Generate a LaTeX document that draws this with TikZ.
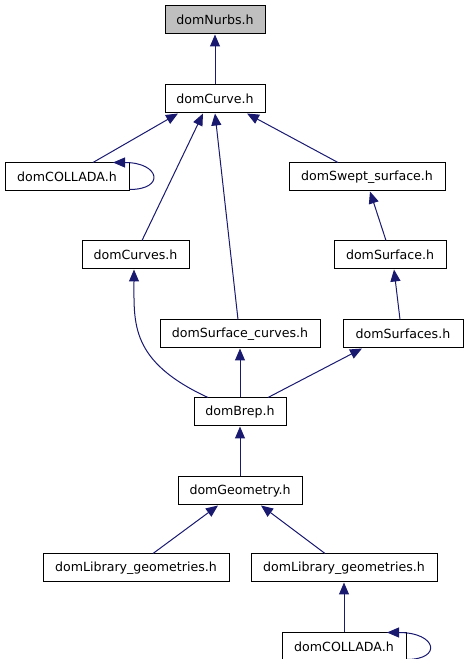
\documentclass[tikz,border=0pt]{standalone}
\usepackage{fontspec}
\setmainfont{DejaVu Sans}
\usepackage{xcolor}
\usepackage{tikz}
\usetikzlibrary{arrows.meta, positioning, calc}

\definecolor{edgeblue}{RGB}{25,25,112}
\definecolor{headgray}{RGB}{191,191,191}

\begin{document}
\begin{tikzpicture}[x=1pt, y=1pt,
  file/.style={draw=black, line width=1pt, rectangle, minimum height=28pt, inner sep=2pt, font=\fontsize{12.6}{15}\selectfont},
  edge/.style={draw=edgeblue, line width=1pt, -{Triangle[length=12pt, width=10pt]}}]
\useasboundingbox (0,0) rectangle (467,659);

\node[file, fill=headgray, minimum width=100pt] (nurbs) at (215,639) {domNurbs.h};
\node[file, minimum width=100pt, below=50pt of nurbs] (curve) {domCurve.h};

\node[file, minimum width=124pt, below=49pt of curve, xshift=-148pt] (colladaA) {domCOLLADA.h};
\node[file, minimum width=156pt, below=49pt of curve, xshift=152pt] (swept) {domSwept\_surface.h};
\node[file, minimum width=107pt, below=49pt of colladaA, xshift=68.5pt] (curves) {domCurves.h};
\node[file, minimum width=112pt, below=49pt of swept, xshift=23pt] (surface) {domSurface.h};
\node[file, minimum width=160pt, below=50pt of curves, xshift=104.5pt] (surfcurves) {domSurface\_curves.h};
\node[file, minimum width=120pt, below=50pt of surface, xshift=13pt] (surfaces) {domSurfaces.h};

\node[file, minimum width=92pt, below=49pt of surfcurves] (brep) {domBrep.h};
\node[file, minimum width=124pt, below=50pt of brep] (geometry) {domGeometry.h};
\node[file, minimum width=186pt, below=48pt of geometry, xshift=-104pt] (libA) {domLibrary\_geometries.h};
\node[file, minimum width=186pt, below=48pt of geometry, xshift=104pt] (libB) {domLibrary\_geometries.h};
\node[file, minimum width=124pt, below=50pt of libB] (colladaB) {domCOLLADA.h};

% includes, pointing up to the included file
\draw[edge] (curve) -- (nurbs);
\draw[edge] ([xshift=26pt]colladaA.north) -- ([xshift=-37pt]curve.south);
\draw[edge] ([xshift=6.5pt]curves.north) -- ([xshift=-12pt]curve.south);
\draw[edge] ([xshift=-2pt]surfcurves.north) -- ([xshift=0pt]curve.south);
\draw[edge] ([xshift=-29pt]swept.north) -- ([xshift=32pt]curve.south);
\draw[edge] ([yshift=2pt]colladaA.south east) .. controls +(36,0) and +(47,0) .. ([xshift=46pt]colladaA.north);
\draw[edge] ([xshift=-4pt]surface.north) -- ([xshift=3pt]swept.south);
\draw[edge] ([xshift=-3pt]surfaces.north) -- ([xshift=4pt]surface.south);
\draw[edge] ([xshift=-32pt]brep.north) .. controls +(-78,36) and +(0,-54) .. ([xshift=-1.5pt]curves.south);
\draw[edge] (brep) -- (surfcurves);
\draw[edge] ([xshift=28pt]brep.north) -- ([xshift=-41pt]surfaces.south);
\draw[edge] (geometry) -- (brep);
\draw[edge] ([xshift=17pt]libA.north) -- ([xshift=-22pt]geometry.south);
\draw[edge] ([xshift=-19pt]libB.north) -- ([xshift=21pt]geometry.south);
\draw[edge] (colladaB) -- (libB);
\draw[edge] ([yshift=2pt]colladaB.south east) .. controls +(36,0) and +(50,0) .. ([xshift=43pt]colladaB.north);
\end{tikzpicture}
\end{document}
